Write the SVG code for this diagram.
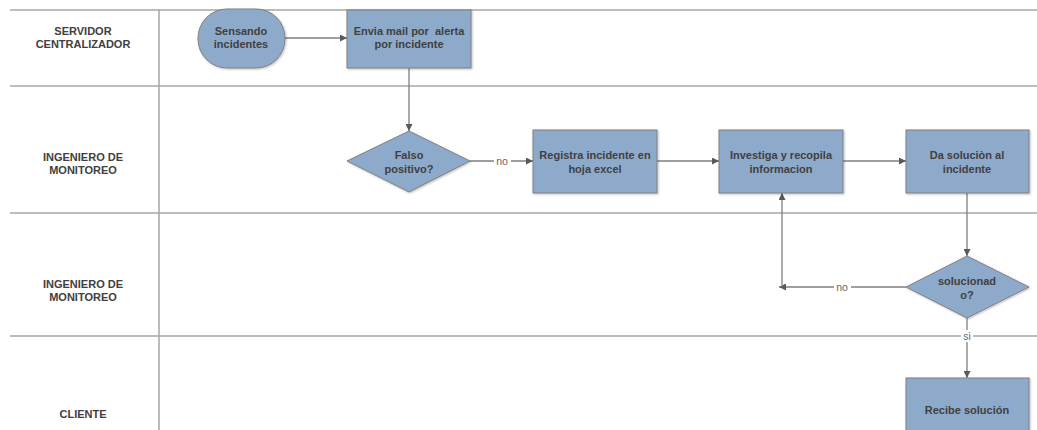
<svg xmlns="http://www.w3.org/2000/svg" width="1037" height="430" viewBox="0 0 1037 430">
<style>
.lane{stroke:#a6a6a6;stroke-width:1.5;fill:none}
.shape{fill:#8eaacb;stroke:#7f7f7f;stroke-width:1}
.t{font-family:"Liberation Sans",Arial,sans-serif;font-size:11px;font-weight:bold;fill:#404040;text-anchor:middle;white-space:pre}
.c{stroke:#7f7f7f;stroke-width:1.3;fill:none}
.lbl{font-family:"Liberation Sans",Arial,sans-serif;font-size:10.5px;fill:#666;text-anchor:middle}
</style>
<defs>
<marker id="arr" viewBox="0 0 10 10" refX="10" refY="5" markerWidth="7" markerHeight="7" orient="auto" markerUnits="userSpaceOnUse"><path d="M0,0 L10,5 L0,10 z" fill="#595959"/></marker>
<filter id="sh" x="-10%" y="-10%" width="130%" height="130%"><feDropShadow dx="1" dy="1" stdDeviation="0.8" flood-color="#000" flood-opacity="0.25"/></filter>
</defs>
<rect width="1037" height="430" fill="#fff"/>
<g id="lanes">
<line class="lane" x1="10" y1="10" x2="1037" y2="10"/>
<line class="lane" x1="10" y1="86" x2="1037" y2="86"/>
<line class="lane" x1="10" y1="213" x2="1037" y2="213"/>
<line class="lane" x1="10" y1="336" x2="1037" y2="336"/>
<line class="lane" x1="159" y1="10" x2="159" y2="430"/>
<text class="t" x="83" y="35">SERVIDOR</text>
<text class="t" x="83" y="48">CENTRALIZADOR</text>
<text class="t" x="83" y="161">INGENIERO DE</text>
<text class="t" x="83" y="174">MONITOREO</text>
<text class="t" x="83" y="288">INGENIERO DE</text>
<text class="t" x="83" y="301">MONITOREO</text>
<text class="t" x="83" y="418">CLIENTE</text>
</g>
<g id="connectors">
<line class="c" x1="285" y1="38" x2="347" y2="38" marker-end="url(#arr)"/>
<line class="c" x1="409" y1="68" x2="409" y2="131" marker-end="url(#arr)"/>
<line class="c" x1="470" y1="161" x2="533" y2="161" marker-end="url(#arr)"/>
<line class="c" x1="657" y1="161" x2="719" y2="161" marker-end="url(#arr)"/>
<line class="c" x1="843" y1="161" x2="906" y2="161" marker-end="url(#arr)"/>
<line class="c" x1="967" y1="193" x2="967" y2="256" marker-end="url(#arr)"/>
<line class="c" x1="906" y1="287" x2="779" y2="287" marker-end="url(#arr)"/>
<line class="c" x1="782" y1="287" x2="782" y2="193" marker-end="url(#arr)"/>
<line class="c" x1="967" y1="318" x2="967" y2="378" marker-end="url(#arr)"/>
<rect x="494" y="155" width="17" height="12" fill="#fff"/>
<text class="lbl" x="502" y="165">no</text>
<rect x="834" y="281" width="17" height="12" fill="#fff"/>
<text class="lbl" x="842" y="291">no</text>
<rect x="961" y="330" width="12" height="12" fill="#fff"/>
<text class="lbl" x="967" y="340">si</text>
</g>
<g id="sensando">
<rect class="shape" x="198" y="9" width="87" height="59" rx="29" ry="29" filter="url(#sh)"/>
<text class="t" x="241" y="35">Sensando</text>
<text class="t" x="241" y="48">incidentes</text>
</g>
<g id="envia">
<rect class="shape" x="347" y="10" width="124" height="58" filter="url(#sh)"/>
<text class="t" x="409" y="35" xml:space="preserve">Envia mail por  alerta</text>
<text class="t" x="409" y="48">por incidente</text>
</g>
<g id="falso">
<polygon class="shape" points="409,131 470,161 409,192 347,161" filter="url(#sh)"/>
<text class="t" x="409" y="159">Falso</text>
<text class="t" x="409" y="173">positivo?</text>
</g>
<g id="registra">
<rect class="shape" x="533" y="130" width="124" height="63" filter="url(#sh)"/>
<text class="t" x="595" y="159">Registra incidente en</text>
<text class="t" x="595" y="173">hoja excel</text>
</g>
<g id="investiga">
<rect class="shape" x="719" y="130" width="124" height="63" filter="url(#sh)"/>
<text class="t" x="781" y="159">Investiga y recopila</text>
<text class="t" x="781" y="173">informacion</text>
</g>
<g id="da-solucion">
<rect class="shape" x="906" y="130" width="123" height="63" filter="url(#sh)"/>
<text class="t" x="967" y="159">Da soluciòn al</text>
<text class="t" x="967" y="173">incidente</text>
</g>
<g id="solucionado">
<polygon class="shape" points="967,256 1029,287 967,318 906,287" filter="url(#sh)"/>
<text class="t" x="967" y="285">solucionad</text>
<text class="t" x="967" y="299">o?</text>
</g>
<g id="recibe">
<rect class="shape" x="906" y="378" width="123" height="56" filter="url(#sh)"/>
<text class="t" x="967" y="414">Recibe solución</text>
</g>
</svg>
